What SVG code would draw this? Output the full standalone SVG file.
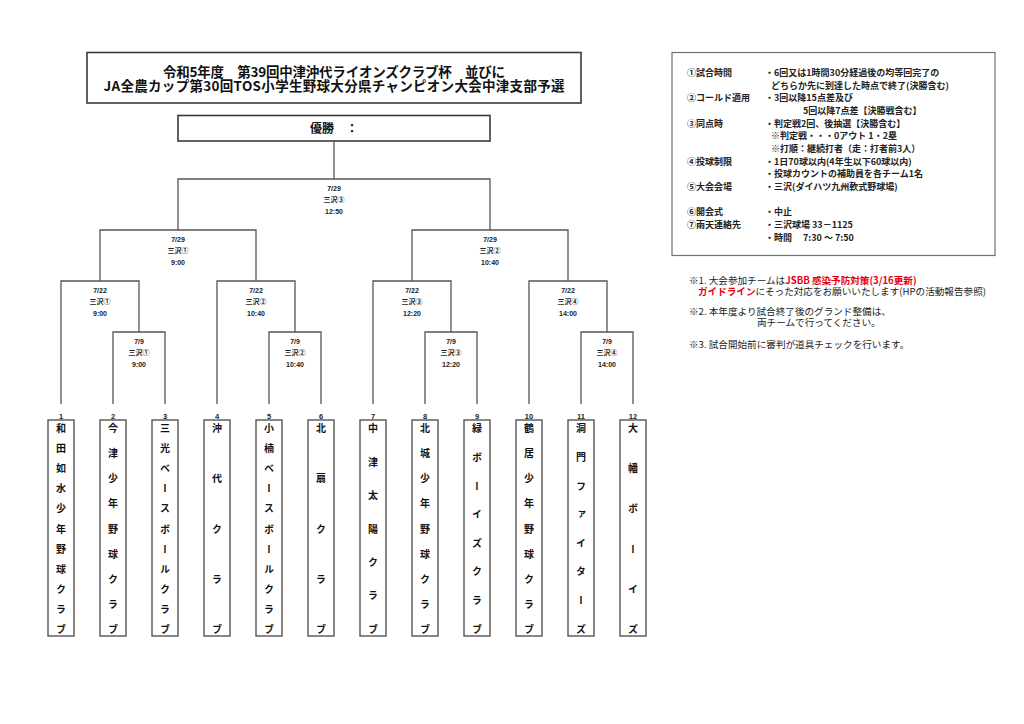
<svg xmlns="http://www.w3.org/2000/svg" width="1024" height="724" viewBox="0 0 1024 724">
<style>
.bg{fill:#fff}
.box{fill:#fff;stroke:#3a3a3a;stroke-width:1.6}
.ibox{fill:#fff;stroke:#707070;stroke-width:1.2}
.tbox{fill:#fff;stroke:#555;stroke-width:1.4}
.ln{fill:none;stroke:#555;stroke-width:1.3}
.ttl{font-family:"Noto Sans CJK JP","Liberation Sans",sans-serif;font-weight:bold;font-size:13.5px;fill:#111;text-anchor:middle}
.win{font-family:"Noto Sans CJK JP","Liberation Sans",sans-serif;font-weight:bold;font-size:12px;fill:#111}
.lb{font-family:"Liberation Sans","Noto Sans CJK JP",sans-serif;font-weight:bold;font-size:7px;fill:#222;text-anchor:middle}
.num{font-family:"Liberation Sans",sans-serif;font-weight:bold;font-size:7.5px;fill:#222;text-anchor:middle}
.tn{font-family:"Noto Sans CJK JP",sans-serif;font-weight:bold;font-size:10px;fill:#111;writing-mode:vertical-rl;text-anchor:middle}
.inf{font-family:"Noto Sans CJK JP","Liberation Sans",sans-serif;font-weight:bold;font-size:9px;fill:#222}
.nt{font-family:"Noto Sans CJK JP","Liberation Sans",sans-serif;font-size:9.6px;fill:#222}
.red{fill:#e60012;font-weight:bold}
</style>
<rect class="bg" x="0" y="0" width="1024" height="724"/>

<g id="title">
<rect class="box" x="87" y="52.5" width="494" height="50.5"/>
<text class="ttl" x="334" y="76.6" textLength="342" lengthAdjust="spacing">令和5年度　第39回中津沖代ライオンズクラブ杯　並びに</text>
<text class="ttl" x="334" y="91.2" textLength="461" lengthAdjust="spacing">JA全農カップ第30回TOS小学生野球大分県チャンピオン大会中津支部予選</text>
</g>

<g id="winner">
<rect class="box" x="178" y="115.5" width="312" height="25.5"/>
<text class="win" x="310" y="132.5">優勝　：</text>
</g>

<g id="connectors">
<path class="ln" d="M334 141V179"/>
<path class="ln" d="M178 230V179H490V230"/>
<path class="ln" d="M100 281V230H256V281"/>
<path class="ln" d="M412 281V230H568V281"/>
<path class="ln" d="M61 404V281H139V332"/>
<path class="ln" d="M217 404V281H295V332"/>
<path class="ln" d="M373 404V281H451V332"/>
<path class="ln" d="M529 404V281H607V332"/>
<path class="ln" d="M113 404V332H165V404"/>
<path class="ln" d="M269 404V332H321V404"/>
<path class="ln" d="M425 404V332H477V404"/>
<path class="ln" d="M581 404V332H633V404"/>
</g>

<g id="match-labels">
<text class="lb" x="334" y="190.8">7/29</text><text class="lb" x="334" y="201.5">三沢③</text><text class="lb" x="334" y="213.5">12:50</text>
<text class="lb" x="178" y="241.8">7/29</text><text class="lb" x="178" y="252.5">三沢①</text><text class="lb" x="178" y="264.5">9:00</text>
<text class="lb" x="490" y="241.8">7/29</text><text class="lb" x="490" y="252.5">三沢②</text><text class="lb" x="490" y="264.5">10:40</text>
<text class="lb" x="100" y="292.8">7/22</text><text class="lb" x="100" y="303.5">三沢①</text><text class="lb" x="100" y="315.5">9:00</text>
<text class="lb" x="256" y="292.8">7/22</text><text class="lb" x="256" y="303.5">三沢②</text><text class="lb" x="256" y="315.5">10:40</text>
<text class="lb" x="412" y="292.8">7/22</text><text class="lb" x="412" y="303.5">三沢③</text><text class="lb" x="412" y="315.5">12:20</text>
<text class="lb" x="568" y="292.8">7/22</text><text class="lb" x="568" y="303.5">三沢④</text><text class="lb" x="568" y="315.5">14:00</text>
<text class="lb" x="139" y="343.8">7/9</text><text class="lb" x="139" y="354.5">三沢①</text><text class="lb" x="139" y="366.5">9:00</text>
<text class="lb" x="295" y="343.8">7/9</text><text class="lb" x="295" y="354.5">三沢②</text><text class="lb" x="295" y="366.5">10:40</text>
<text class="lb" x="451" y="343.8">7/9</text><text class="lb" x="451" y="354.5">三沢③</text><text class="lb" x="451" y="366.5">12:20</text>
<text class="lb" x="607" y="343.8">7/9</text><text class="lb" x="607" y="354.5">三沢④</text><text class="lb" x="607" y="366.5">14:00</text>
</g>

<g id="team1"><text class="num" x="61" y="418.5">1</text><rect class="tbox" x="48" y="420" width="26" height="216"/>
<text class="tn" x="61" y="428.5 448.55 468.6 488.65 508.7 528.75 548.8 568.85 588.9 608.95 629">和田如水少年野球クラブ</text></g>
<g id="team2"><text class="num" x="113" y="418.5">2</text><rect class="tbox" x="100" y="420" width="26" height="216"/>
<text class="tn" x="113" y="428.5 453.6 478.6 503.7 528.8 553.8 578.9 603.9 629">今津少年野球クラブ</text></g>
<g id="team3"><text class="num" x="165" y="418.5">3</text><rect class="tbox" x="152" y="420" width="26" height="216"/>
<text class="tn" x="165" y="428.5 448.55 468.6 488.65 508.7 528.75 548.8 568.85 588.9 608.95 629">三光ベースボールクラブ</text></g>
<g id="team4"><text class="num" x="217" y="418.5">4</text><rect class="tbox" x="204" y="420" width="26" height="216"/>
<text class="tn" x="217" y="428.5 478.6 528.8 578.9 629">沖代クラブ</text></g>
<g id="team5"><text class="num" x="269" y="418.5">5</text><rect class="tbox" x="256" y="420" width="26" height="216"/>
<text class="tn" x="269" y="428.5 448.55 468.6 488.65 508.7 528.75 548.8 568.85 588.9 608.95 629">小楠ベースボールクラブ</text></g>
<g id="team6"><text class="num" x="321" y="418.5">6</text><rect class="tbox" x="308" y="420" width="26" height="216"/>
<text class="tn" x="321" y="428.5 478.6 528.8 578.9 629">北扇クラブ</text></g>
<g id="team7"><text class="num" x="373" y="418.5">7</text><rect class="tbox" x="360" y="420" width="26" height="216"/>
<text class="tn" x="373" y="428.5 461.9 495.3 528.8 562.2 595.6 629">中津太陽クラブ</text></g>
<g id="team8"><text class="num" x="425" y="418.5">8</text><rect class="tbox" x="412" y="420" width="26" height="216"/>
<text class="tn" x="425" y="428.5 453.6 478.6 503.7 528.8 553.8 578.9 603.9 629">北城少年野球クラブ</text></g>
<g id="team9"><text class="num" x="477" y="418.5">9</text><rect class="tbox" x="464" y="420" width="26" height="216"/>
<text class="tn" x="477" y="428.5 457.1 485.8 514.4 543.1 571.7 600.4 629">緑ボーイズクラブ</text></g>
<g id="team10"><text class="num" x="529" y="418.5">10</text><rect class="tbox" x="516" y="420" width="26" height="216"/>
<text class="tn" x="529" y="428.5 453.6 478.6 503.7 528.8 553.8 578.9 603.9 629">鶴居少年野球クラブ</text></g>
<g id="team11"><text class="num" x="581" y="418.5">11</text><rect class="tbox" x="568" y="420" width="26" height="216"/>
<text class="tn" x="581" y="428.5 457.1 485.8 514.4 543.1 571.7 600.4 629">洞門ファイターズ</text></g>
<g id="team12"><text class="num" x="633" y="418.5">12</text><rect class="tbox" x="620" y="420" width="26" height="216"/>
<text class="tn" x="633" y="428.5 468.6 508.7 548.8 588.9 629">大幡ボーイズ</text></g>

<g id="info">
<rect class="ibox" x="672" y="52.5" width="323" height="203"/>
<text class="inf" x="687" y="75.8">①試合時間</text><text class="inf" x="765" y="75.8">・6回又は1時間30分経過後の均等回完了の</text>
<text class="inf" x="771" y="88.5">どちらか先に到達した時点で終了(決勝含む)</text>
<text class="inf" x="687" y="101.2">②コールド適用</text><text class="inf" x="765" y="101.2">・3回以降15点差及び</text>
<text class="inf" x="803" y="113.8">5回以降7点差【決勝戦含む】</text>
<text class="inf" x="687" y="126.5">③同点時</text><text class="inf" x="765" y="126.5">・判定戦2回、後抽選【決勝含む】</text>
<text class="inf" x="771" y="139.2">※判定戦・・・0アウト  1・2塁</text>
<text class="inf" x="771" y="151.9">※打順：継続打者（走：打者前3人）</text>
<text class="inf" x="687" y="164.6">④投球制限</text><text class="inf" x="765" y="164.6">・1日70球以内(4年生以下60球以内)</text>
<text class="inf" x="765" y="177.2">・投球カウントの補助員を各チーム1名</text>
<text class="inf" x="687" y="189.9">⑤大会会場</text><text class="inf" x="765" y="189.9">・三沢(ダイハツ九州軟式野球場)</text>
<text class="inf" x="687" y="215.3">⑥開会式</text><text class="inf" x="765" y="215.3">・中止</text>
<text class="inf" x="687" y="228">⑦雨天連絡先</text><text class="inf" x="765" y="228">・三沢球場  33－1125</text>
<text class="inf" x="765" y="240.6">・時間　 7:30  ～  7:50</text>
</g>

<g id="notes">
<text class="nt" x="689" y="284.2">※1. 大会参加チームは<tspan class="red">JSBB 感染予防対策(3/16更新)</tspan></text>
<text class="nt" x="698" y="294.8"><tspan class="red">ガイドライン</tspan>にそった対応をお願いいたします(HPの活動報告参照)</text>
<text class="nt" x="689" y="315.2">※2. 本年度より試合終了後のグランド整備は、</text>
<text class="nt" x="757" y="325.6">両チームで行ってください。</text>
<text class="nt" x="689" y="347.5">※3. 試合開始前に審判が道具チェックを行います。</text>
</g>
</svg>
